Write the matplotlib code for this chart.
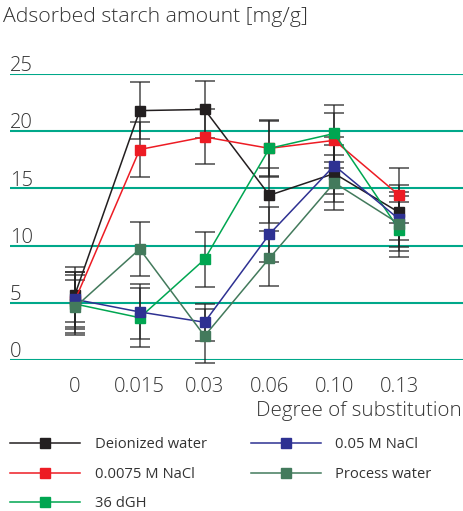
import numpy as np
import matplotlib
matplotlib.use("Agg")
from matplotlib import pyplot as plt

plt.rcParams['font.family'] = ['Open Sans', 'DejaVu Sans']

# degree of substitution categories
ds_labels = ['0', '0.015', '0.03', '0.06', '0.10', '0.13']

# adsorbed starch amount [mg/g] and error for each medium
deionized = [5.7, 21.8, 21.9, 14.4, 16.3, 12.9]
deionized_err = [2.4, 2.5, 2.5, 2.4, 2.5, 2.4]
nacl_0075 = [5.2, 18.4, 19.5, 18.5, 19.2, 14.4]
nacl_0075_err = [2.5, 2.4, 2.4, 2.5, 2.4, 2.4]
dgh_36 = [4.9, 3.7, 8.8, 18.5, 19.8, 11.4]
dgh_36_err = [2.5, 2.6, 2.4, 2.4, 2.5, 2.4]
nacl_005 = [5.3, 4.2, 3.3, 11.0, 17.0, 12.3]
nacl_005_err = [2.4, 2.4, 1.6, 2.4, 2.5, 2.4]
process = [4.6, 9.7, 2.1, 8.9, 15.5, 11.9]
process_err = [2.4, 2.4, 2.4, 2.4, 2.4, 2.4]

series = [
    ('Deionized water', deionized, deionized_err, '#231f20'),
    ('0.0075 M NaCl', nacl_0075, nacl_0075_err, '#ed1c24'),
    ('36 dGH', dgh_36, dgh_36_err, '#00a651'),
    ('0.05 M NaCl', nacl_005, nacl_005_err, '#2e3192'),
    ('Process water', process, process_err, '#437a5c'),
]

txt = '#333333'

fig = plt.figure(figsize=(4.64, 5.11), dpi=100)
ax = fig.add_axes([10/464, 151/511, 454/464, 286/511])

x = np.arange(len(ds_labels))

# horizontal guide lines with their value written just above
for yv in [0, 5, 10, 15, 20, 25]:
    ax.axhline(yv, color='#00a88a', lw=1.5, zorder=0)
    ax.text(0.0, yv + 0.25, str(yv), transform=ax.get_yaxis_transform(),
            ha='left', va='baseline', fontsize=14.5, color=txt, fontweight='light')

handles = []
for name, vals, err, col in series:
    ax.errorbar(x, vals, yerr=err, fmt='none', ecolor='#222222', elinewidth=1.2,
                capsize=7, capthick=1.2, alpha=0.75, clip_on=False, zorder=2)
    h, = ax.plot(x, vals, '-', color=col, lw=1.1, marker='s', markersize=7,
                 markerfacecolor=col, markeredgecolor=col, clip_on=False,
                 label=name, zorder=3)
    handles.append(h)

ax.set_xlim(-1, 6)
ax.set_ylim(0, 25)
ax.set_xticks(x)
ax.set_xticklabels(ds_labels, fontsize=14.5, color=txt, fontweight='light')
ax.tick_params(axis='x', length=0, pad=12)
ax.set_yticks([])
for s in ax.spines.values():
    s.set_visible(False)

fig.text(3/464, 1 - 17/511, 'Adsorbed starch amount [mg/g]', ha='left', va='center',
         fontsize=15.3, color=txt, fontweight='light')
fig.text(462/464, 1 - 411/511, 'Degree of substitution', ha='right', va='center',
         fontsize=14.8, color=txt, fontweight='light')

fig.legend(handles=handles, ncol=2, loc='upper left', bbox_to_anchor=(10/464, 1 - 437/511),
           frameon=False, fontsize=10.6, handlelength=4.75, handletextpad=1.0,
           columnspacing=3.0, labelspacing=1.0, labelcolor=txt,
           borderaxespad=0, borderpad=0)

fig.savefig('out.png', dpi=100)
